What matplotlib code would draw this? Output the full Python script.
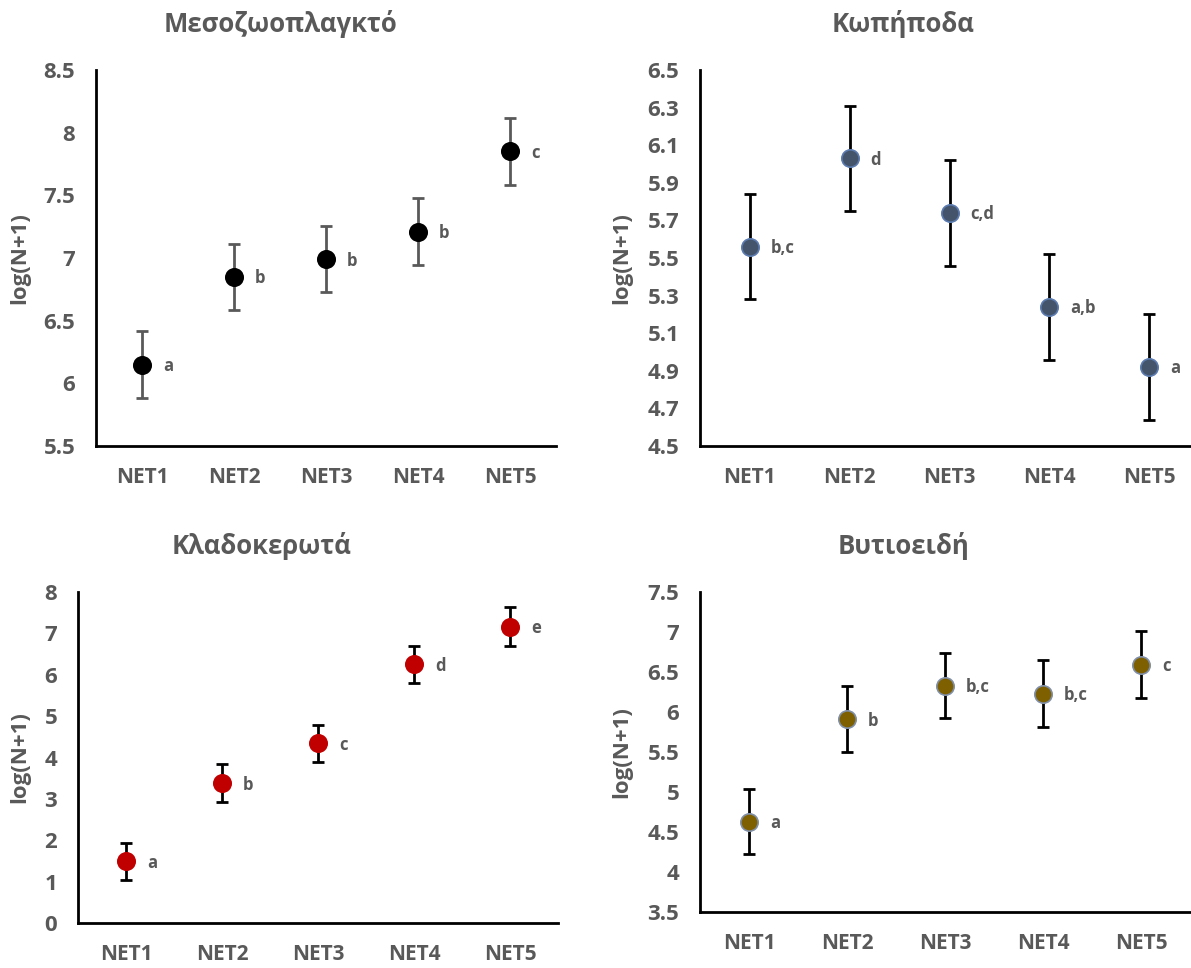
import matplotlib
matplotlib.use("Agg")
import matplotlib.pyplot as plt
import numpy as np

plt.rcParams['font.family'] = ['Open Sans', 'DejaVu Sans']

categories = ["NET1", "NET2", "NET3", "NET4", "NET5"]

titles = ["Μεσοζωοπλαγκτό", "Κωπήποδα", "Κλαδοκερωτά", "Βυτιοειδή"]

meso_mean = [6.15, 6.85, 6.99, 7.21, 7.85]
meso_err = [0.265, 0.265, 0.265, 0.265, 0.265]
meso_letters = ["a", "b", "b", "b", "c"]

cope_mean = [5.56, 6.03, 5.74, 5.24, 4.92]
cope_err = [0.28, 0.28, 0.28, 0.28, 0.28]
cope_letters = ["b,c", "d", "c,d", "a,b", "a"]

clad_mean = [1.49, 3.38, 4.34, 6.25, 7.16]
clad_err = [0.45, 0.46, 0.45, 0.45, 0.47]
clad_letters = ["a", "b", "c", "d", "e"]

biv_mean = [4.63, 5.91, 6.33, 6.23, 6.59]
biv_err = [0.41, 0.41, 0.41, 0.42, 0.42]
biv_letters = ["a", "b", "b,c", "b,c", "c"]

W, H = 1191, 968
fig = plt.figure(figsize=(W / 100, H / 100), dpi=100)

TXT = "#595959"

panels = [
    # data, err, letters, title, ylim, yticks, ticklabels, rect(px: left, top, right, bottom), face, edge, errcolor, title centre
    (meso_mean, meso_err, meso_letters, titles[0], (5.5, 8.5),
     [5.5, 6, 6.5, 7, 7.5, 8, 8.5], ["5.5", "6", "6.5", "7", "7.5", "8", "8.5"],
     (96, 70, 556, 446), "black", "black", "#595959", 280, 24),
    (cope_mean, cope_err, cope_letters, titles[1], (4.5, 6.5),
     [4.5, 4.7, 4.9, 5.1, 5.3, 5.5, 5.7, 5.9, 6.1, 6.3, 6.5],
     ["4.5", "4.7", "4.9", "5.1", "5.3", "5.5", "5.7", "5.9", "6.1", "6.3", "6.5"],
     (700, 70, 1199, 446), "#44546A", "#5B7BB0", "black", 903, 24),
    (clad_mean, clad_err, clad_letters, titles[2], (0, 8),
     [0, 1, 2, 3, 4, 5, 6, 7, 8], ["0", "1", "2", "3", "4", "5", "6", "7", "8"],
     (78, 592, 558, 923), "#C00000", "#C00000", "black", 262, 546),
    (biv_mean, biv_err, biv_letters, titles[3], (3.5, 7.5),
     [3.5, 4, 4.5, 5, 5.5, 6, 6.5, 7, 7.5], ["3.5", "4", "4.5", "5", "5.5", "6", "6.5", "7", "7.5"],
     (700, 592, 1190, 912), "#7F6000", "#7F8FA8", "black", 903, 546),
]

for (mean, err, letters, title, ylim, yt, ytl, rect, face, edge, ecol, tx, ty) in panels:
    l, t, r, b = rect
    ax = fig.add_axes([l / W, 1 - b / H, (r - l) / W, (b - t) / H])
    x = np.arange(len(categories))
    ax.errorbar(x, mean, yerr=err, fmt="none", ecolor=ecol, elinewidth=2.0,
                capsize=4.3, capthick=2.0, zorder=2)
    ax.plot(x, mean, "o", markersize=12.5, markerfacecolor=face,
            markeredgecolor=edge, markeredgewidth=1.2, zorder=3, linestyle="none")
    for xi, yi, lab in zip(x, mean, letters):
        ax.annotate(lab, (xi, yi), xytext=(15, -1), textcoords="offset points",
                    ha="left", va="center", fontsize=12, fontweight="bold", color=TXT)
    ax.set_xlim(-0.5, len(categories) - 0.5)
    ax.set_ylim(*ylim)
    ax.set_yticks(yt)
    ax.set_yticklabels(ytl)
    ax.set_xticks(x)
    ax.set_xticklabels(categories)
    ax.tick_params(axis="both", length=0, labelcolor=TXT)
    ax.tick_params(axis="y", pad=15, labelsize=16)
    ax.tick_params(axis="x", pad=15, labelsize=15)
    for lab in ax.get_xticklabels() + ax.get_yticklabels():
        lab.set_fontweight("bold")
    for s in ["top", "right"]:
        ax.spines[s].set_visible(False)
    for s in ["left", "bottom"]:
        ax.spines[s].set_linewidth(2)
        ax.spines[s].set_color("black")
    fig.text(tx / W, 1 - ty / H, title, ha="center", va="center",
             fontsize=18.5, fontweight="bold", color=TXT)
    ylx = 20 if l < 300 else 622
    fig.text(ylx / W, 1 - ((t + b) / 2) / H, "log(N+1)", rotation=90,
             ha="center", va="center", fontsize=16, fontweight="bold", color=TXT)

fig.savefig("out.png", dpi=100, facecolor="white")
